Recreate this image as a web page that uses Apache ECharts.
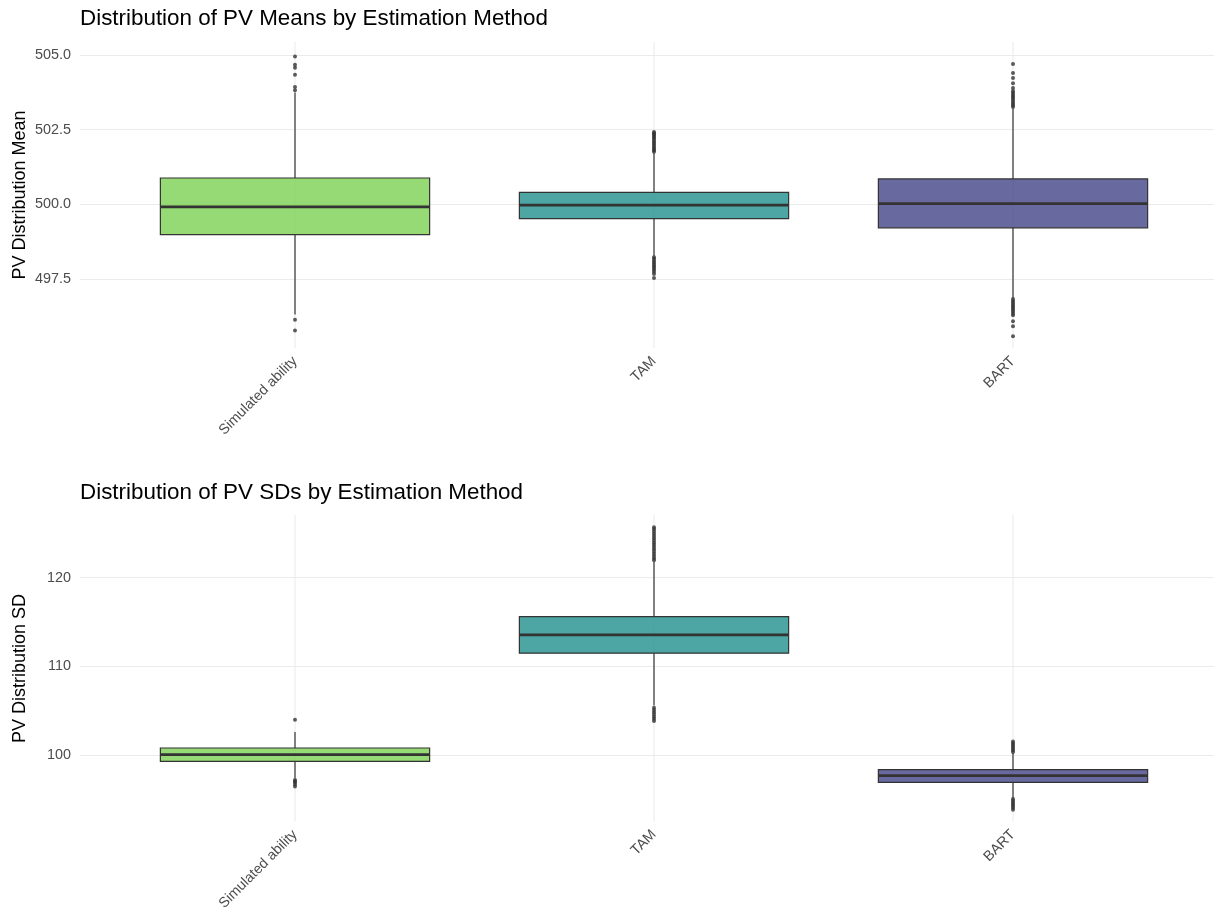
<!DOCTYPE html>
<html>
<head>
<meta charset="utf-8">
<title>PV distributions by estimation method</title>
<script src="https://cdn.jsdelivr.net/npm/echarts@6/dist/echarts.min.js"></script>
<style>
  html, body { margin: 0; padding: 0; background: #ffffff; }
  #chart { width: 1214px; height: 913px; }
</style>
</head>
<body>
<div id="chart"></div>
<script>
// Estimation methods (x categories)
const methods = ['Simulated ability', 'TAM', 'BART'];

// Box summaries per method: [low whisker, Q1, median, Q3, high whisker]
const meanBoxes = [
  [496.30, 498.98, 499.91, 500.88, 503.75],
  [498.25, 499.52, 499.97, 500.40, 501.72],
  [496.86, 499.21, 500.02, 500.85, 503.21]
];
const sdBoxes = [
  [97.35, 99.24, 100.00, 100.76, 102.56],
  [105.55, 111.47, 113.54, 115.60, 121.80],
  [95.12, 96.88, 97.63, 98.31, 100.19]
];

// Outlying PV means per method
const meanOutSim = [504.95, 504.68, 504.58, 504.34, 503.93, 503.82, 496.13, 495.77];
const meanOutTam = [502.42, 502.38, 502.34, 502.30, 502.25, 502.20, 502.14, 502.08, 502.02,
  501.96, 501.90, 501.85, 501.80, 501.76,
  498.22, 498.16, 498.10, 498.04, 497.98, 497.92, 497.86, 497.80, 497.74, 497.66, 497.53];
const meanOutBart = [504.70, 504.40, 504.23, 504.06, 503.90, 503.80, 503.74, 503.68, 503.62,
  503.56, 503.50, 503.44, 503.38, 503.32, 503.26,
  496.82, 496.76, 496.70, 496.64, 496.58, 496.52, 496.46, 496.40, 496.34, 496.28,
  496.08, 495.91, 495.57];

// Outlying PV SDs per method
const sdOutSim = [103.95, 97.15, 97.00, 96.85, 96.65, 96.40];
const sdOutTam = [125.68, 125.45, 125.20, 124.95, 124.70, 124.45, 124.20, 123.95, 123.70,
  123.45, 123.20, 122.95, 122.70, 122.45, 122.20, 121.95,
  105.30, 105.05, 104.80, 104.55, 104.30, 104.05, 103.80];
const sdOutBart = [101.50, 101.30, 101.10, 100.90, 100.70, 100.50, 100.30,
  95.00, 94.80, 94.60, 94.40, 94.20, 94.00, 93.80];

// Tick labels on the value axes
const meanTicks = [497.5, 500.0, 502.5, 505.0];
const sdTicks = [100, 110, 120];

// Axis extents
const meanRange = [495.18, 505.44];
const sdRange = [92.48, 127.07];

const fills = ['rgba(122,209,81,0.8)', 'rgba(33,144,140,0.8)', 'rgba(65,68,135,0.8)'];
const inkColor = '#333333';
const gridColor = '#ebebeb';
const textGrey = '#4d4d4d';
const fontFamily = '"Liberation Sans", Arial, Helvetica, sans-serif';

function boxRows(boxes) {
  return boxes.map((b, i) => [i].concat(b));
}
function pointRows(lists) {
  const rows = [];
  lists.forEach((list, i) => list.forEach(v => rows.push([i, v])));
  return rows;
}

// Draws one ggplot-style box: vertical gridline, whiskers (no caps), box and a bold median
function renderBox(params, api) {
  const idx = api.value(0);
  const lo = api.coord([idx, api.value(1)]);
  const q1 = api.coord([idx, api.value(2)]);
  const md = api.coord([idx, api.value(3)]);
  const q3 = api.coord([idx, api.value(4)]);
  const hi = api.coord([idx, api.value(5)]);
  const bw = api.size([1, 0])[0] * 0.75;
  const cx = lo[0];
  const cs = params.coordSys;
  return {
    type: 'group',
    children: [
      { type: 'line', shape: { x1: cx, y1: cs.y, x2: cx, y2: cs.y + cs.height },
        style: { stroke: gridColor, lineWidth: 1.1 } },
      { type: 'line', shape: { x1: cx, y1: hi[1], x2: cx, y2: q3[1] },
        style: { stroke: inkColor, lineWidth: 1.2 } },
      { type: 'line', shape: { x1: cx, y1: q1[1], x2: cx, y2: lo[1] },
        style: { stroke: inkColor, lineWidth: 1.2 } },
      { type: 'rect', shape: { x: cx - bw / 2, y: q3[1], width: bw, height: q1[1] - q3[1] },
        style: { fill: fills[idx], stroke: inkColor, lineWidth: 1.2 } },
      { type: 'line', shape: { x1: cx - bw / 2, y1: md[1], x2: cx + bw / 2, y2: md[1] },
        style: { stroke: inkColor, lineWidth: 2.8 } }
    ]
  };
}

const panels = [
  { top: 42, height: 306, range: meanRange, ticks: meanTicks, name: 'PV Distribution Mean',
    fmt: v => v.toFixed(1), boxes: meanBoxes, outliers: [meanOutSim, meanOutTam, meanOutBart] },
  { top: 515, height: 307, range: sdRange, ticks: sdTicks, name: 'PV Distribution SD',
    fmt: v => String(Math.round(v)), boxes: sdBoxes, outliers: [sdOutSim, sdOutTam, sdOutBart] }
];

const grids = [], xAxes = [], yAxes = [], series = [];
panels.forEach((p, k) => {
  // background grid: full-width horizontal gridlines and the y labels
  grids.push({ left: 80, right: 0, top: p.top, height: p.height });
  // plotting grid: category bands centred on the methods
  grids.push({ left: 115.5, right: 21.5, top: p.top, height: p.height });
  const gBack = 2 * k, gPlot = 2 * k + 1;

  xAxes.push({ gridIndex: gBack, type: 'value', min: 0, max: 1, show: false });
  xAxes.push({
    gridIndex: gPlot, type: 'category', data: methods, boundaryGap: true,
    axisLine: { show: false }, axisTick: { show: false }, splitLine: { show: false },
    axisLabel: { rotate: 45, margin: 11, fontSize: 14.3, color: textGrey, fontFamily: fontFamily, interval: 0 }
  });

  yAxes.push({
    gridIndex: gBack, type: 'value', min: p.range[0], max: p.range[1],
    name: p.name, nameLocation: 'middle', nameGap: 51, nameMoveOverlap: false,
    nameTextStyle: { fontSize: 18, color: '#000000', fontFamily: fontFamily },
    axisLine: { show: false },
    axisTick: { show: false, customValues: p.ticks },
    axisLabel: { customValues: p.ticks, formatter: p.fmt, fontSize: 14.4, color: textGrey,
      fontFamily: fontFamily, margin: 9 },
    splitLine: { show: true, lineStyle: { color: gridColor, width: 1.1 } }
  });
  yAxes.push({
    gridIndex: gPlot, type: 'value', min: p.range[0], max: p.range[1], show: false,
    splitLine: { show: false }
  });

  series.push({
    type: 'custom', xAxisIndex: gPlot, yAxisIndex: gPlot,
    data: boxRows(p.boxes), renderItem: renderBox, silent: true, z: 2
  });
  series.push({
    type: 'scatter', xAxisIndex: gPlot, yAxisIndex: gPlot,
    data: pointRows(p.outliers), symbol: 'circle', symbolSize: 4,
    itemStyle: { color: inkColor }, silent: true, z: 3
  });
});

const chart = echarts.init(document.getElementById('chart'));
chart.setOption({
  animation: false,
  backgroundColor: '#ffffff',
  textStyle: { fontFamily: fontFamily },
  title: [
    { text: 'Distribution of PV Means by Estimation Method', left: 80, top: 8, padding: 0,
      textStyle: { fontSize: 22.4, fontWeight: 'normal', color: '#000000', fontFamily: fontFamily } },
    { text: 'Distribution of PV SDs by Estimation Method', left: 80, top: 482, padding: 0,
      textStyle: { fontSize: 22.4, fontWeight: 'normal', color: '#000000', fontFamily: fontFamily } }
  ],
  grid: grids,
  xAxis: xAxes,
  yAxis: yAxes,
  series: series
});
</script>
</body>
</html>
